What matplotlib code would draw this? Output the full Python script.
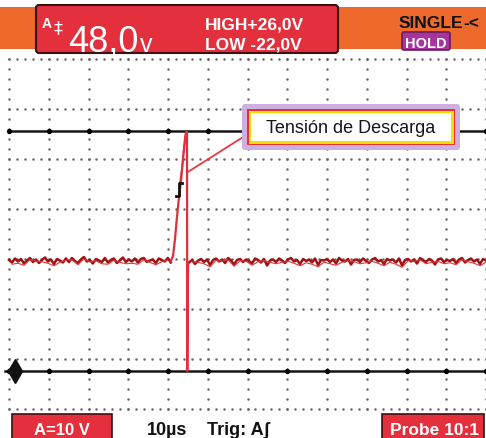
import numpy as np
import matplotlib
matplotlib.use("Agg")
import matplotlib.pyplot as plt
from matplotlib.patches import Rectangle, FancyBboxPatch

# ---------------- data (time in µs, voltage in V) ----------------
t_div = 10.0          # µs / div
v_div = 10.0          # V / div
cursor_high = 26.0
cursor_low = -22.0

# baseline noise before the pulse (V)
noise_before = [0.2, -0.3, 0.5, -0.1, 0.4, -0.5, 0.1, 0.6, -0.2, 0.3, -0.4, 0.2,
                0.7, -0.1, 0.3, -0.6, 0.4, 0.1, -0.3, 0.5, -0.2, 0.6, 0.0, -0.4,
                0.3, 0.8, -0.1, 0.2, -0.5, 0.4, 0.1, -0.2, 0.6, -0.3, 0.2, 0.5,
                -0.4, 0.1, 0.7, -0.2, 0.3, -0.1, 0.5, -0.3, 0.4, 0.6, -0.2, 0.1,
                0.3, -0.4, 0.5, 0.2, -0.1, 0.6, -0.3]
t_before_start, t_before_end = 0.0, 40.7

# rising edge and discharge
rise_t = [40.75, 41.26, 41.76, 42.26, 42.77, 43.27, 43.77, 44.28, 44.53, 44.78, 44.85, 45.05]
rise_v = [0.0, 1.0, 4.4, 8.8, 12.8, 16.0, 20.4, 24.4, 25.8, 25.8, -22.0, -0.2]
rise2_t = [43.0, 43.6, 44.0, 44.4, 44.7]
rise2_v = [15.5, 19.0, 22.5, 25.0, 25.8]

# baseline noise after the pulse (V)
noise_after = [-0.3, 0.2, -0.6, 0.1, 0.4, -0.2, 0.3, -0.8, 0.2, 0.5, -0.1, 0.3,
               -0.4, 0.6, 0.1, -0.7, 0.2, 0.4, -0.2, 0.3, 0.0, -0.5, 0.5, 0.2,
               -0.3, 0.4, -0.9, 0.1, 0.3, -0.2, 0.5, 0.1, -0.4, 0.3, 0.6, -0.1,
               0.2, -0.6, 0.4, 0.0, 0.3, -0.3, 0.5, -0.8, 0.2, 0.1, 0.4, -0.2,
               0.3, -0.5, 0.6, 0.1, -0.1, 0.4, -0.7, 0.2, 0.3, -0.2, 0.5, 0.0,
               -0.4, 0.3, 0.6, -0.1, 0.2, -0.6, 0.4, 0.1, 0.3, -0.3, 0.5, -0.9,
               0.2, 0.4, -0.1, 0.3, -0.5, 0.6, 0.2, -0.2, 0.4, 0.1, -0.7, 0.3,
               0.5, -0.2, 0.2, 0.0, 0.4, -0.4, 0.3, 0.6, -0.3, 0.2, 0.5, -0.1,
               0.3, -0.6, 0.4, 0.1]
t_after_start, t_after_end = 45.3, 120.0

trig_glyph_t = [42.0, 42.8, 42.8, 43.6]
trig_glyph_v = [13.0, 13.0, 15.6, 15.6]

callout_text = "Tensión de Descarga"
callout_tip = (45.0, 17.8)
callout_base = (58.9, 24.8)

# ---------------- figure ----------------
W, H = 486, 439
fig = plt.figure(figsize=(W / 100, H / 100), dpi=100, facecolor="white")

ax_top_px, ax_bot_px = 52, 413
ax = fig.add_axes([0, 1 - ax_bot_px / H, 1, (ax_bot_px - ax_top_px) / H])
ax.set_xlim(-9 / 3.975, 477 / 3.975)
ax.set_ylim((262 - ax_bot_px) / 5, (262 - ax_top_px) / 5)
ax.axis("off")

# grid dots
cols = np.arange(0, 121, t_div)
rows = np.arange(-29.5, 41, v_div)
dot_c = "#6e6262"
yy = np.arange(-29.5, 42, 2.0)
for c in cols:
    ax.scatter(np.full_like(yy, c), yy, s=3.2, color=dot_c, lw=0, zorder=1)
xx = np.arange(0, 121, 2.0)
for r in rows:
    ax.scatter(xx, np.full_like(xx, r), s=3.2, color=dot_c, lw=0, zorder=1)

# cursors
ax.plot([0, 120], [cursor_high, cursor_high], color="#151515", lw=1.8, zorder=2)
ax.plot([-1.0, 120], [cursor_low, cursor_low], color="#151515", lw=1.8, zorder=2)
ax.scatter(cols, np.full_like(cols, cursor_high), s=8, color="#000", zorder=2)
ax.scatter(cols, np.full_like(cols, cursor_low), s=8, color="#000", zorder=2)
ax.plot([1.5], [cursor_low], marker="d", ms=12, color="#111", zorder=3)

# trace
tb = np.linspace(t_before_start, t_before_end, len(noise_before))
ta = np.linspace(t_after_start, t_after_end, len(noise_after))
ax.plot(tb, noise_before, color="#9e1414", lw=1.8, zorder=4)
ax.plot(ta, noise_after, color="#9e1414", lw=1.8, zorder=4)
ax.plot(tb[1::2], np.array(noise_before[1::2]) - 0.35, color="#e8303a", lw=0.8, zorder=4)
ax.plot(ta[1::2], np.array(noise_after[1::2]) - 0.35, color="#e8303a", lw=0.8, zorder=4)
ax.plot(rise_t, rise_v, color="#e0303c", lw=1.6, zorder=5)
ax.plot(rise2_t, rise2_v, color="#e0303c", lw=1.2, zorder=5)
ax.plot(trig_glyph_t, trig_glyph_v, color="#111", lw=2.0, zorder=6)

# callout leader
ax.plot([callout_tip[0], callout_base[0]], [callout_tip[1], callout_base[1]],
        color="#e03a44", lw=1.3, zorder=6)

# ---------------- overlay (pixel coords) ----------------
ov = fig.add_axes([0, 0, 1, 1], zorder=10)
ov.set_xlim(0, W)
ov.set_ylim(H, 0)
ov.axis("off")
ov.patch.set_alpha(0)

def rect(x0, y0, x1, y1, fc, ec="none", lw=0, z=1, r=0):
    if r:
        p = FancyBboxPatch((x0, y0), x1 - x0, y1 - y0,
                           boxstyle=f"round,pad=0,rounding_size={r}",
                           fc=fc, ec=ec, lw=lw, zorder=z)
    else:
        p = Rectangle((x0, y0), x1 - x0, y1 - y0, fc=fc, ec=ec, lw=lw, zorder=z)
    ov.add_patch(p)

FAM = ["Liberation Sans", "DejaVu Sans"]
orange = "#ee6a2c"
red = "#e3303c"

def T(x, y, s, size, color="white", ha="left", bold=True):
    ov.text(x, y, s, color=color, fontsize=size, family=FAM,
            fontweight="bold" if bold else "normal", ha=ha, va="baseline",
            zorder=3)

# header
rect(0, 8, W, 50, orange)
rect(36, 6, 338, 54, red, ec="#3a1010", lw=1.5, z=2, r=3)
T(42, 28, "A", 10)
ov.text(53, 33, "‡", color="white", fontsize=13, family=["DejaVu Sans"],
        ha="left", va="baseline", zorder=3)
T(68, 52, "48,0", 26, bold=False)
T(140, 52, "v", 18, bold=False)
T(205, 30, "HIGH+26,0V", 12.5)
T(205, 50, "LOW -22,0V", 12.5)
T(399, 28, "SINGLE", 12.5, color="#111")
T(463, 28, "-<", 12.5, color="#111")
rect(402, 33, 450, 51, "#a8359e", ec="#6a1a60", lw=1.2, z=2, r=2)
T(426, 48, "HOLD", 10.5, ha="center")

# footer
rect(12, 415, 112, 442, red, ec="#3a1010", lw=1.2, z=2)
T(62, 435, "A=10 V", 12, ha="center")
T(147, 435, "10µs", 13, color="#111")
T(207, 435, "Trig: A\u0283", 13, color="#111")
rect(382, 415, 484, 442, red, ec="#3a1010", lw=1.2, z=2)
T(434, 435, "Probe 10:1", 12.5, ha="center")

# callout box
rect(242, 105, 460, 151, "#cdb0e0", z=4, r=3)
rect(247, 110, 455, 146, "#e8303a", z=5)
rect(248.5, 111.5, 453.5, 144.5, "#f2e000", z=6)
rect(251, 114, 451, 142, "white", z=7)
ov.text(351, 129, callout_text, color="#151515", fontsize=13,
        family=FAM, ha="center", va="center", zorder=8)

fig.savefig("out.png", dpi=100, facecolor="white")
